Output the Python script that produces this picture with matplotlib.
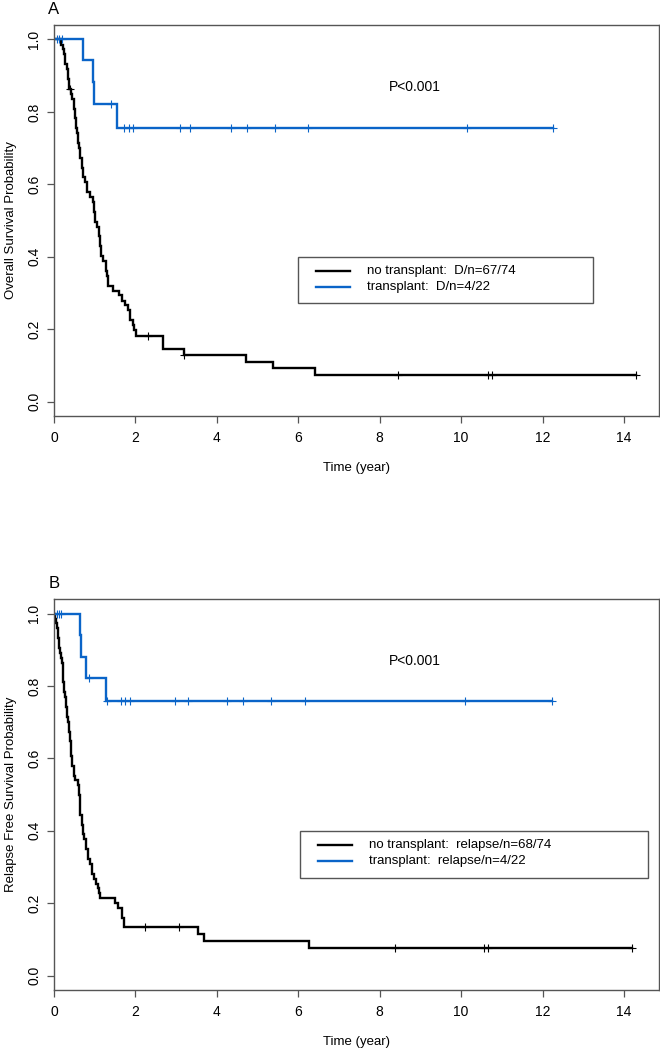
import numpy as np
import matplotlib

matplotlib.use("Agg")
import matplotlib.pyplot as plt
from matplotlib.patches import Rectangle

plt.rcParams["font.family"] = ["Liberation Sans", "DejaVu Sans"]

C_NO = "#000000"   # no transplant
C_TX = "#0a64c8"   # transplant
C_AX = "#555555"

# ---- Panel A: overall survival --------------------------------------------
a_no_t = [0.00, 0.16, 0.22, 0.25, 0.28, 0.31, 0.34, 0.37, 0.41, 0.45, 0.48,
          0.51, 0.54, 0.56, 0.59, 0.62, 0.65, 0.69, 0.72, 0.77, 0.80, 0.88,
          0.96, 0.99, 1.01, 1.06, 1.10, 1.13, 1.16, 1.21, 1.27, 1.30, 1.33,
          1.46, 1.60, 1.68, 1.75, 1.83, 1.87, 1.93, 1.97, 2.02, 2.68, 3.20,
          4.71, 5.38, 6.40]
a_no_s = [1.000, 0.986, 0.973, 0.959, 0.932, 0.918, 0.891, 0.864, 0.850,
          0.836, 0.809, 0.782, 0.755, 0.741, 0.714, 0.700, 0.673, 0.646,
          0.619, 0.605, 0.578, 0.565, 0.551, 0.524, 0.497, 0.483, 0.456,
          0.429, 0.402, 0.388, 0.361, 0.347, 0.320, 0.306, 0.293, 0.279,
          0.266, 0.252, 0.225, 0.212, 0.198, 0.180, 0.146, 0.128, 0.110,
          0.092, 0.074]
a_no_cens = [0.39, 2.30, 3.20, 8.45, 10.65, 10.75, 14.30]

a_tx_t = [0.00, 0.72, 0.95, 0.99, 1.54]
a_tx_s = [1.000, 0.942, 0.882, 0.823, 0.756]
a_tx_cens = [0.08, 0.13, 0.20, 1.40, 1.72, 1.84, 1.93, 3.09, 3.35, 4.34,
             4.75, 5.42, 6.24, 10.15, 12.25]

# ---- Panel B: relapse free survival ---------------------------------------
b_no_t = [0.00, 0.02, 0.05, 0.07, 0.09, 0.10, 0.12, 0.14, 0.17, 0.19, 0.21,
          0.23, 0.25, 0.27, 0.29, 0.31, 0.34, 0.37, 0.39, 0.41, 0.42, 0.45,
          0.48, 0.52, 0.59, 0.61, 0.63, 0.65, 0.68, 0.71, 0.74, 0.78, 0.83,
          0.88, 0.93, 0.98, 1.03, 1.07, 1.10, 1.13, 1.49, 1.56, 1.68, 1.72,
          3.54, 3.69, 6.27]
b_no_s = [1.000, 0.986, 0.973, 0.959, 0.946, 0.932, 0.905, 0.891, 0.878,
          0.864, 0.837, 0.810, 0.783, 0.769, 0.742, 0.715, 0.701, 0.674,
          0.647, 0.620, 0.606, 0.579, 0.552, 0.539, 0.525, 0.498, 0.471,
          0.444, 0.417, 0.390, 0.376, 0.349, 0.322, 0.308, 0.281, 0.268,
          0.254, 0.241, 0.227, 0.214, 0.200, 0.187, 0.160, 0.133, 0.115,
          0.096, 0.076]
b_no_cens = [2.24, 3.07, 8.38, 10.57, 10.66, 14.20]

b_tx_t = [0.00, 0.64, 0.67, 0.78, 1.28]
b_tx_s = [1.000, 0.940, 0.880, 0.822, 0.758]
b_tx_cens = [0.07, 0.12, 0.16, 0.87, 1.31, 1.64, 1.75, 1.86, 2.97, 3.28,
             4.25, 4.64, 5.33, 6.16, 10.09, 12.22]

x_ticks = [0, 2, 4, 6, 8, 10, 12, 14]
y_ticks = [0.0, 0.2, 0.4, 0.6, 0.8, 1.0]


def km(ax, t, s, cens, color):
    t = np.asarray(t)
    s = np.asarray(s)
    end = max(max(cens), t[-1])
    ax.step(np.append(t, end), np.append(s, s[-1]), where="post",
            color=color, lw=1.7, solid_joinstyle="miter")
    c = np.asarray(cens)
    sc = s[np.searchsorted(t, c, side="right") - 1]
    ax.plot(c, sc, ls="none", marker="+", ms=6, mew=0.8, color=color)


def r_legend(ax, box, labels):
    # R-style legend box drawn in axes fraction (x0, y0, x1, y1)
    x0, y0, x1, y1 = box
    ax.add_patch(Rectangle((x0, y0), x1 - x0, y1 - y0, transform=ax.transAxes,
                           fill=True, fc="white", ec=C_AX, lw=1.0, zorder=5))
    rows = [0.3708, 0.3299]
    for lab, col, ry in zip(labels, [C_NO, C_TX], rows):
        ax.plot([x0 + 0.030, x0 + 0.086], [ry, ry], color=col, lw=1.7,
                transform=ax.transAxes, zorder=6)
        ax.text(x0 + 0.1145, ry, lab, transform=ax.transAxes, fontsize=9.5,
                ha="left", va="center", zorder=6)


def panel(ax, letter, ylab, no, tx, labels, leg_box):
    km(ax, *no, C_NO)
    km(ax, *tx, C_TX)
    ax.set_xlim(0, 14.86)
    ax.set_ylim(-0.04, 1.04)
    ax.set_xticks(x_ticks)
    ax.set_yticks(y_ticks)
    ax.set_yticklabels([f"{v:.1f}" for v in y_ticks])
    for lab in ax.get_yticklabels():
        lab.set_rotation(90)
        lab.set_va("center")
    ax.tick_params(length=5, width=0.9, color=C_AX, labelsize=10, pad=4)
    ax.tick_params(axis="x", pad=6)
    for sp in ax.spines.values():
        sp.set_color(C_AX)
        sp.set_linewidth(1.0)
    ax.set_xlabel("Time (year)", fontsize=9.5)
    ax.xaxis.set_label_coords(0.5, -0.117)
    ax.set_ylabel(ylab, fontsize=9.5)
    ax.yaxis.set_label_coords(-0.061, 0.5)
    ax.text(-0.0, 1.04, letter, transform=ax.transAxes, fontsize=12,
            ha="center", va="center")
    ax.text(8.86, 0.868, "P<0.001", fontsize=10, ha="center", va="center")
    r_legend(ax, leg_box, labels)


fig = plt.figure(figsize=(6.6, 10.5), dpi=100)
axA = fig.add_axes([0.0818, 0.6038, 0.9167, 0.3724])
axB = fig.add_axes([0.0818, 0.0571, 0.9167, 0.3724])

panel(axA, "A", "Overall Survival Probability",
      (a_no_t, a_no_s, a_no_cens), (a_tx_t, a_tx_s, a_tx_cens),
      ["no transplant:  D/n=67/74", "transplant:  D/n=4/22"],
      (0.4033, 0.2890, 0.8909, 0.4066))
panel(axB, "B", "Relapse Free Survival Probability",
      (b_no_t, b_no_s, b_no_cens), (b_tx_t, b_tx_s, b_tx_cens),
      ["no transplant:  relapse/n=68/74", "transplant:  relapse/n=4/22"],
      (0.4066, 0.2864, 0.9818, 0.4066))

fig.savefig("out.png", dpi=100)
